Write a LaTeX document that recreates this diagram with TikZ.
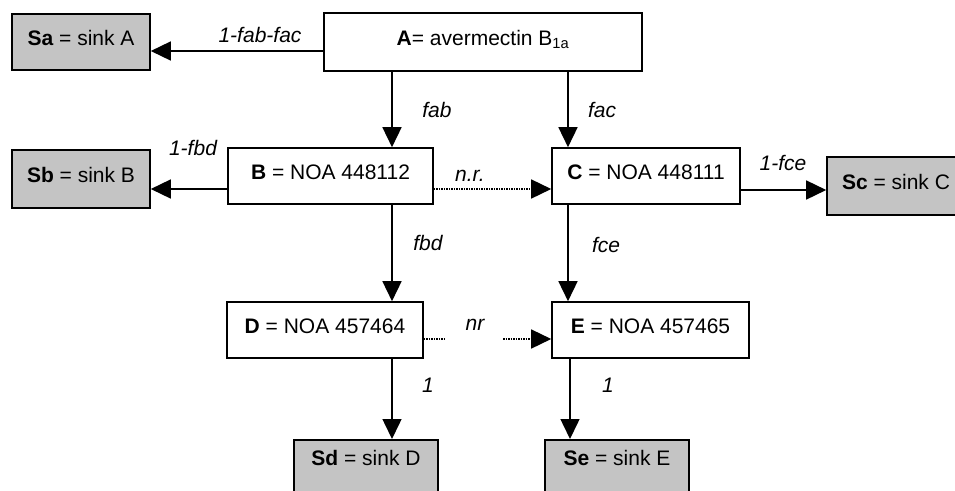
\documentclass[tikz,border=0pt]{standalone}
\usepackage{fontspec}
\setmainfont{Liberation Sans}
\usetikzlibrary{arrows.meta}
\definecolor{sinkgray}{RGB}{196,196,196}
\begin{document}
\begin{tikzpicture}[x=1pt,y=-1pt,
  font=\fontsize{21}{24}\selectfont,
  box/.style={draw, line width=1.6pt, rectangle, minimum height=56pt, text height=15pt, text depth=8pt, inner sep=0pt},
  sink/.style={box, fill=sinkgray},
  arr/.style={line width=1.5pt, -{Triangle[length=20pt,width=19pt]}},
  dotarr/.style={arr, densely dotted},
  dotline/.style={line width=1.5pt, densely dotted},
  lbl/.style={font=\fontsize{21}{24}\selectfont\itshape, anchor=base, inner sep=0pt}]
\useasboundingbox (0,0) rectangle (955,490);
\clip (0,0) rectangle (955,490);

% nodes
\node[sink, minimum width=138pt] (Sa) at (81,42) {\textbf{Sa} = sink A};
\node[box, minimum width=318pt, minimum height=58pt] (A) at (483,42) {\textbf{A}= avermectin B\textsubscript{1a}};
\node[sink, minimum width=138pt, minimum height=58pt] (Sb) at (81,179) {\textbf{Sb} = sink B};
\node[box, minimum width=205pt] (B) at (330.5,176) {\textbf{B} = NOA 448112};
\node[box, minimum width=188pt] (C) at (646,176) {\textbf{C} = NOA 448111};
\node[sink, minimum width=138pt, minimum height=58pt] (Sc) at (896,186) {\textbf{Sc} = sink C};
\node[box, minimum width=196pt] (D) at (325,330) {\textbf{D} = NOA 457464};
\node[box, minimum width=197pt] (E) at (650.5,330) {\textbf{E} = NOA 457465};
\node[sink, anchor=north, minimum width=144pt, text depth=35pt, inner ysep=11pt] (Sd) at (366,439) {\textbf{Sd} = sink D};
\node[sink, anchor=north, minimum width=144pt, text depth=35pt, inner ysep=11pt] (Se) at (617,439) {\textbf{Se} = sink E};

\coordinate (nr1) at (445,339);
\coordinate (nr2) at (503,339);

% connectors
\draw[arr] ([yshift=-9pt]A.west) -- ([yshift=-9pt]Sa.east);
\draw[arr] ([xshift=-91pt]A.south) -- ([xshift=61.5pt]B.north);
\draw[arr] ([xshift=85pt]A.south) -- ([xshift=-78pt]C.north);
\draw[arr] ([yshift=-13pt]B.west) -- ([yshift=-10pt]Sb.east);
\draw[dotarr] ([yshift=-13pt]B.east) -- ([yshift=-13pt]C.west);
\draw[arr] ([yshift=-14pt]C.east) -- ([yshift=-4pt]Sc.west);
\draw[arr] ([xshift=61.5pt]B.south) -- ([xshift=67pt]D.north);
\draw[arr] ([xshift=-78pt]C.south) -- ([xshift=-82.5pt]E.north);
\draw[dotline] ([yshift=-9pt]D.east) -- (nr1);
\draw[dotarr] (nr2) -- ([yshift=-9pt]E.west);
\draw[arr] ([xshift=67pt]D.south) -- ([xshift=26pt]Sd.north);
\draw[arr] ([xshift=-80.5pt]E.south) -- ([xshift=-47pt]Se.north);

% labels
\node[lbl] (l1) at (260,42) {1-fab-fac};
\node[lbl] (l2) at (437,117) {fab};
\node[lbl] (l3) at (602,117) {fac};
\node[lbl] (l4) at (193,155) {1-fbd};
\node[lbl] (l5) at (470,181) {n.r.};
\node[lbl] (l6) at (783,170) {1-fce};
\node[lbl] (l7) at (428,250) {fbd};
\node[lbl] (l8) at (606,252) {fce};
\node[lbl] (l9) at (475,330) {nr};
\node[lbl] (l10) at (428,392) {1};
\node[lbl] (l11) at (608,392) {1};
\end{tikzpicture}
\end{document}
